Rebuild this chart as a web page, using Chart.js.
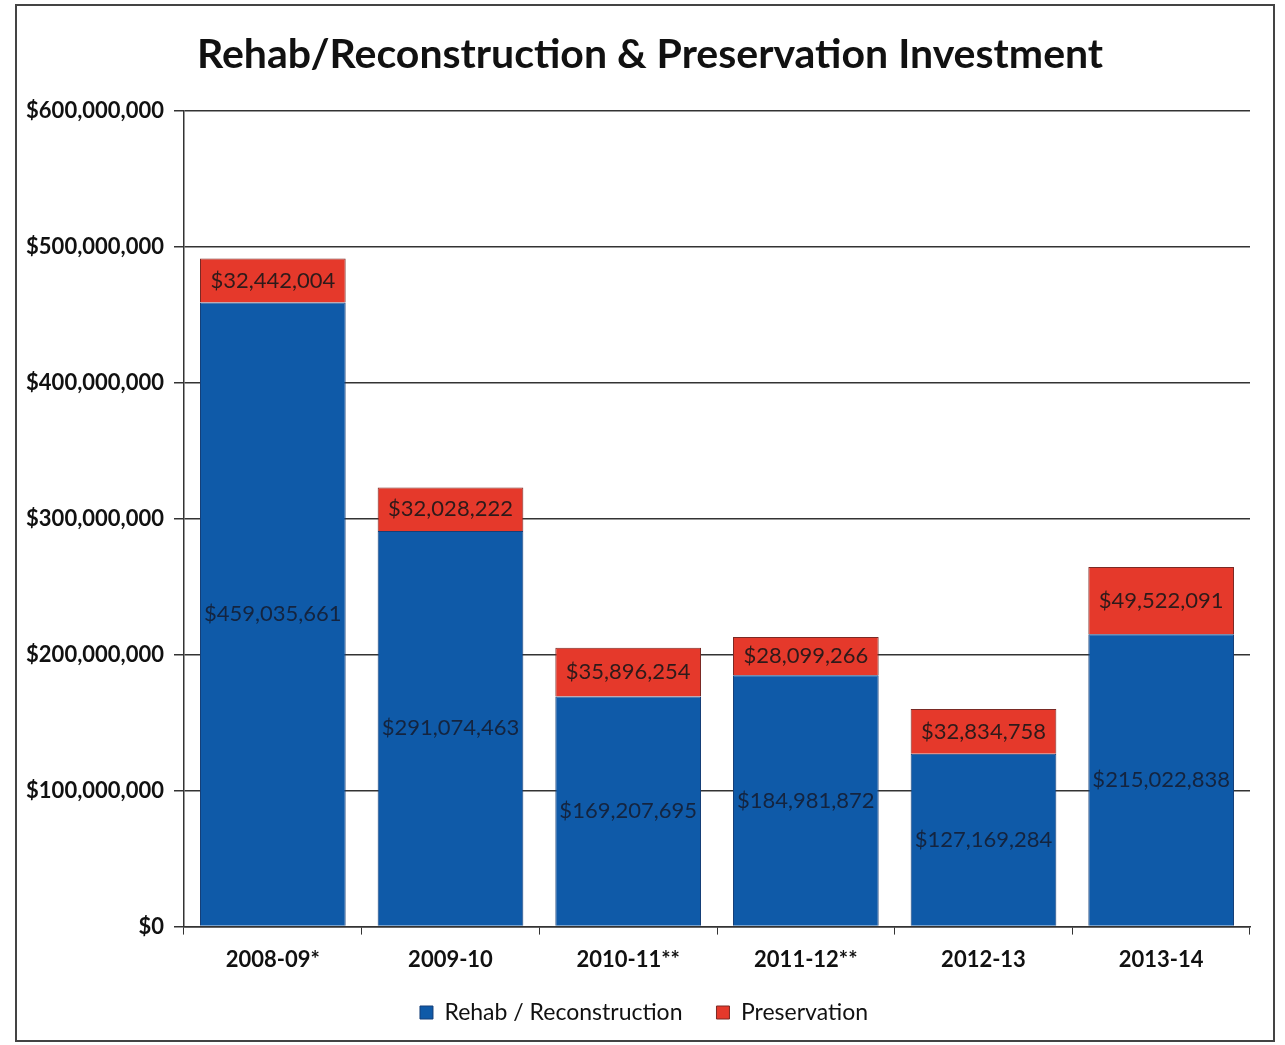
<!DOCTYPE html>
<html>
<head>
<meta charset="utf-8">
<title>Rehab/Reconstruction &amp; Preservation Investment</title>
<script src="https://cdn.jsdelivr.net/npm/chart.js@4/dist/chart.umd.min.js"></script>
<style>
  html, body { margin: 0; padding: 0; background: #fff; }
  #wrap { width: 1285px; height: 1045px; }
</style>
</head>
<body>
<div id="wrap"><canvas id="chart" width="1285" height="1045"></canvas></div>
<script>
// fiscal years and investment per program
const years = ["2008-09*", "2009-10", "2010-11**", "2011-12**", "2012-13", "2013-14"];
const rehab = [459035661, 291074463, 169207695, 184981872, 127169284, 215022838];
const preservation = [32442004, 32028222, 35896254, 28099266, 32834758, 49522091];
const yTicks = [0, 100000000, 200000000, 300000000, 400000000, 500000000, 600000000];
const chartTitle = "Rehab/Reconstruction & Preservation Investment";

const FONT = "Lato, 'Open Sans', sans-serif";
const money = v => "$" + Number(v).toLocaleString("en-US");

// white page, thin frame, and the heading (drawn here so it can sit a bit right of centre)
const framePlugin = {
  id: "frame",
  afterLayout(chart) {
    // nudge the legend a little to the right
    chart.legend.left += 12;
    chart.legend.right += 12;
  },
  beforeDraw(chart) {
    const c = chart.ctx;
    c.save();
    c.fillStyle = "#fff";
    c.fillRect(0, 0, chart.width, chart.height);
    c.strokeStyle = "#444";
    c.lineWidth = 2;
    c.strokeRect(16, 5, 1258, 1036);
    c.fillStyle = "#111";
    c.font = "bold 41px " + FONT;
    c.textAlign = "center";
    c.textBaseline = "middle";
    c.fillText(chartTitle, 650, 55);
    c.restore();
  }
};

// value labels centred inside each stacked segment
const segLabels = {
  id: "segLabels",
  afterDatasetsDraw(chart) {
    const c = chart.ctx;
    c.save();
    c.font = "22px " + FONT;
    c.textAlign = "center";
    c.textBaseline = "middle";
    chart.data.datasets.forEach((ds, i) => {
      const meta = chart.getDatasetMeta(i);
      c.fillStyle = i === 0 ? "#14243f" : "#2e1a1a";
      meta.data.forEach((bar, j) => {
        const p = bar.getProps(["x", "y", "base"], true);
        c.fillText(money(ds.data[j]), p.x, (p.y + p.base) / 2);
      });
    });
    c.restore();
  }
};

new Chart(document.getElementById("chart"), {
  type: "bar",
  data: {
    labels: years,
    datasets: [
      {
        label: "Rehab / Reconstruction",
        data: rehab,
        backgroundColor: "#0f5aa8",
        borderColor: "#163f78",
        borderWidth: 1
      },
      {
        label: "Preservation",
        data: preservation,
        backgroundColor: "#e5392b",
        borderColor: "#7a2a25",
        borderWidth: 1
      }
    ]
  },
  options: {
    responsive: false,
    animation: false,
    devicePixelRatio: 1,
    layout: { padding: { top: 111, left: 14, right: 35, bottom: 11 } },
    datasets: { bar: { categoryPercentage: 1, barPercentage: 0.82 } },
    plugins: {
      title: { display: false },
      legend: {
        position: "bottom",
        labels: {
          color: "#111",
          font: { family: FONT, size: 23 },
          boxWidth: 13,
          boxHeight: 13,
          padding: 34
        }
      },
      tooltip: { enabled: false }
    },
    scales: {
      x: {
        stacked: true,
        afterFit(axis) { axis.height -= 18; },
        grid: {
          offset: true,
          drawOnChartArea: false,
          drawTicks: true,
          tickLength: 8,
          color: "#333"
        },
        border: { color: "#333", width: 1.5 },
        ticks: { color: "#111", font: { family: FONT, size: 22, weight: "bold" }, padding: 12 }
      },
      y: {
        stacked: true,
        min: 0,
        max: 600000000,
        afterBuildTicks(axis) { axis.ticks = yTicks.map(v => ({ value: v })); },
        afterFit(axis) { axis.width = 170; },
        grid: { color: "#333", lineWidth: 1.5, tickLength: 10 },
        border: { color: "#333", width: 1.5 },
        ticks: {
          color: "#111",
          font: { family: FONT, size: 22, weight: "bold" },
          padding: 10,
          callback: v => money(v)
        }
      }
    }
  },
  plugins: [framePlugin, segLabels]
});
</script>
</body>
</html>
